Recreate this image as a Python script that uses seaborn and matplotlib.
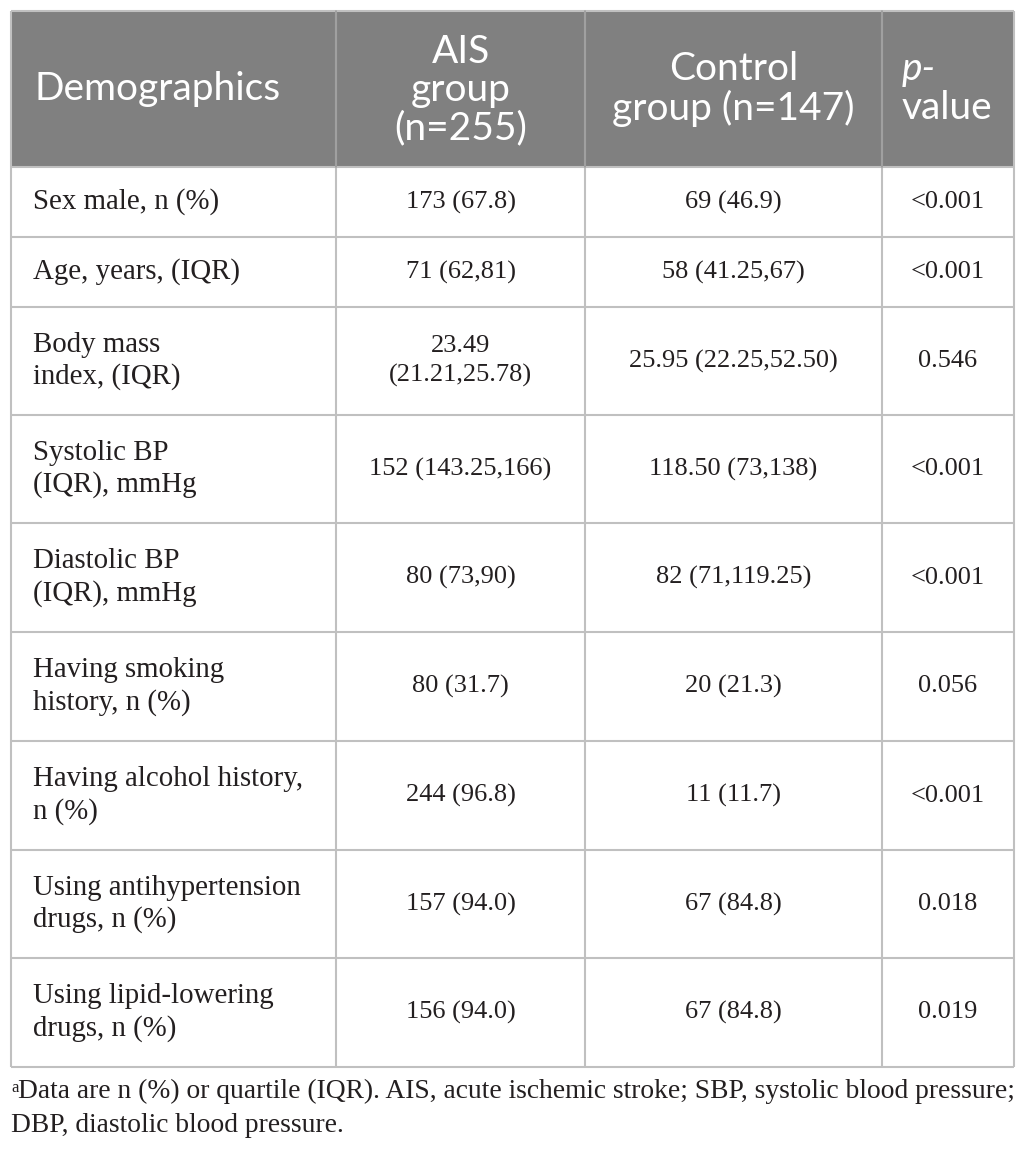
import matplotlib.pyplot as plt
import seaborn as sns
from matplotlib.patches import Rectangle

# table content
headers = ["Demographics", "AIS\ngroup\n(n=255)", "Control\ngroup (n=147)", "value"]
demographics = [
    "Sex male, n (%)",
    "Age, years, (IQR)",
    "Body mass\nindex, (IQR)",
    "Systolic BP\n(IQR), mmHg",
    "Diastolic BP\n(IQR), mmHg",
    "Having smoking\nhistory, n (%)",
    "Having alcohol history,\nn (%)",
    "Using antihypertension\ndrugs, n (%)",
    "Using lipid-lowering\ndrugs, n (%)",
]
ais_group = [
    "173 (67.8)", "71 (62,81)", "23.49\n(21.21,25.78)", "152 (143.25,166)",
    "80 (73,90)", "80 (31.7)", "244 (96.8)", "157 (94.0)", "156 (94.0)",
]
control_group = [
    "69 (46.9)", "58 (41.25,67)", "25.95 (22.25,52.50)", "118.50 (73,138)",
    "82 (71,119.25)", "20 (21.3)", "11 (11.7)", "67 (84.8)", "67 (84.8)",
]
p_values = ["<0.001", "<0.001", "0.546", "<0.001", "<0.001",
            "0.056", "<0.001", "0.018", "0.019"]
footnote_lines = ["Data are n (%) or quartile (IQR). AIS, acute ischemic stroke; SBP, systolic blood pressure;",
                  "DBP, diastolic blood pressure."]

# layout in pixels
W, H = 1026, 1156
col_x = [11, 336, 585, 882, 1014]
row_y = [11, 167, 237, 307, 415, 523, 632, 741, 850, 958, 1067]

HEAD_BG = "#808080"
LINE = "#c0c0c0"
TXT = "#231f20"

sns.set_theme(style="white")
fig = plt.figure(figsize=(W / 100, H / 100), dpi=100)
ax = fig.add_axes([0, 0, 1, 1])
ax.set_xlim(0, W)
ax.set_ylim(H, 0)
ax.axis("off")

head_font = dict(family="Lato", fontsize=28, color="white")
label_font = dict(family="Liberation Serif", fontsize=20.8, color=TXT)
value_font = dict(family="Liberation Serif", fontsize=19, color=TXT)
foot_font = dict(family="Liberation Serif", fontsize=19.8, color=TXT)

# header
ax.add_patch(Rectangle((col_x[0], row_y[0]), col_x[-1] - col_x[0], row_y[1] - row_y[0],
                       facecolor=HEAD_BG, edgecolor="none"))
head_mid = (row_y[0] + row_y[1]) / 2
ax.text(col_x[0] + 23, head_mid, headers[0], ha="left", va="center", **head_font)
ax.text((col_x[1] + col_x[2]) / 2, head_mid + 1, headers[1], ha="center", va="center",
        linespacing=1.08, **head_font)
ax.text((col_x[2] + col_x[3]) / 2, head_mid, headers[2], ha="center", va="center",
        linespacing=1.1, **head_font)
ax.text(col_x[3] + 20, head_mid - 20, "p-", ha="left", va="center", style="italic", **head_font)
ax.text(col_x[3] + 20, head_mid + 19, headers[3], ha="left", va="center", **head_font)

# body
for i in range(len(demographics)):
    mid = (row_y[i + 1] + row_y[i + 2]) / 2
    ax.text(col_x[0] + 22, mid, demographics[i], ha="left", va="center", linespacing=1.27, **label_font)
    ax.text((col_x[1] + col_x[2]) / 2, mid, ais_group[i], ha="center", va="center", linespacing=1.4, **value_font)
    ax.text((col_x[2] + col_x[3]) / 2, mid, control_group[i], ha="center", va="center", linespacing=1.4, **value_font)
    ax.text((col_x[3] + col_x[4]) / 2, mid, p_values[i], ha="center", va="center", **value_font)

# grid lines
for y in row_y:
    ax.plot([col_x[0], col_x[-1]], [y, y], color=LINE, lw=1.5, solid_capstyle="butt")
for x in col_x:
    ax.plot([x, x], [row_y[0], row_y[-1]], color=LINE, lw=1.5, solid_capstyle="butt")
for x in col_x[1:-1]:
    ax.plot([x, x], [row_y[0], row_y[1]], color="#9a9a9a", lw=1.2)

# footnote
ax.text(11, 1080, "a", ha="left", va="top", family="Liberation Serif", fontsize=12, color=TXT)
ax.text(18, 1091, footnote_lines[0], ha="left", va="center", **foot_font)
ax.text(11, 1125, footnote_lines[1], ha="left", va="center", **foot_font)

fig.savefig("out.png", dpi=100)
